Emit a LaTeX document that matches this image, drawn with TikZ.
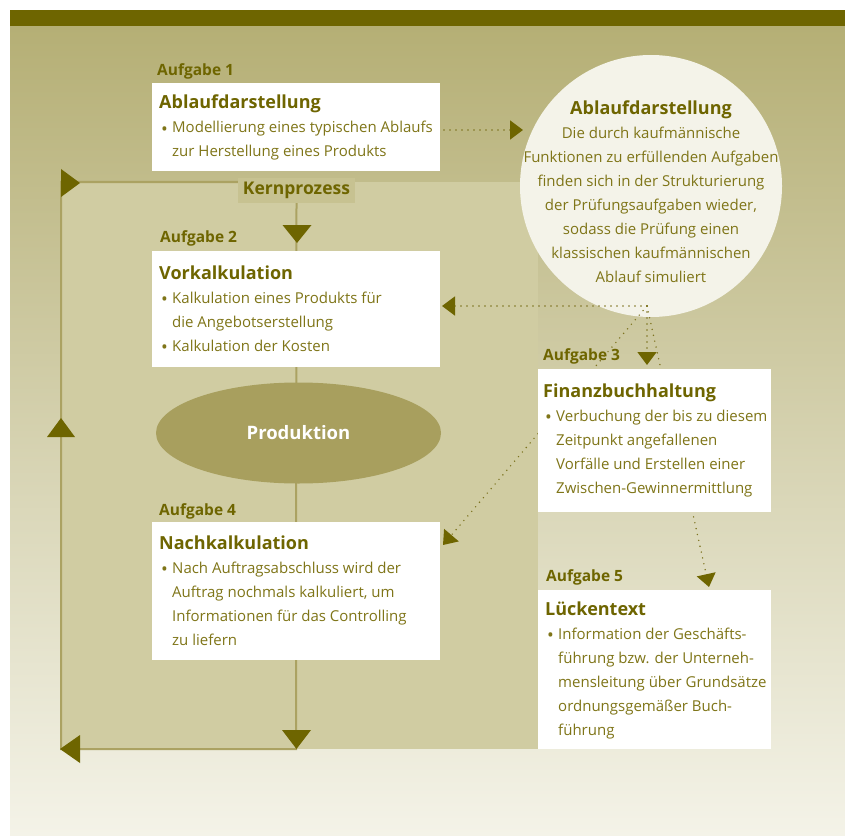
\documentclass[tikz,border=0pt]{standalone}
\usepackage{fontspec}
\setmainfont{Open Sans}
\usetikzlibrary{arrows.meta,shapes.geometric}
\definecolor{olivedark}{HTML}{6E6500}
\definecolor{olivetext}{HTML}{7F7518}
\definecolor{bgtop}{HTML}{B5AF75}
\definecolor{bgbot}{HTML}{F4F3E8}
\definecolor{kernfill}{HTML}{D0CCA2}
\definecolor{kernlab}{HTML}{C7C291}
\definecolor{flowline}{HTML}{ABA262}
\definecolor{circfill}{HTML}{F4F3E9}
\definecolor{ellfill}{HTML}{A89F5E}
\definecolor{dotcol}{HTML}{7D7320}
\newcommand\bul{\hspace*{2pt}\makebox[11pt][l]{\raisebox{-2.2pt}{\fontsize{18}{18}\selectfont\textbullet}}}
\newcommand\ind{\hspace*{13pt}}
\newcommand\ttl[1]{{\fontsize{18}{24}\selectfont\bfseries\color{olivedark}#1}}
\begin{document}
\begin{tikzpicture}[x=1pt,y=-1pt,
  whitebox/.style={fill=white,draw=none,anchor=north west,inner sep=0pt},
  task/.style={anchor=base west,inner sep=0pt,text=olivedark,font=\fontsize{15.5}{17}\selectfont\bfseries},
  boxtext/.style={anchor=base west,inner sep=0pt,text=olivetext,font=\fontsize{15}{24}\selectfont},
  flow/.style={draw=flowline,line width=2pt},
  tri/.style={fill=olivedark},
  dots/.style={draw=dotcol,line width=1.6pt,line cap=round,dash pattern=on 0pt off 6pt,
    -{Triangle[length=13pt,width=19pt,color=olivedark,line cap=butt]}}]
\useasboundingbox (0,0) rectangle (845,837);
\fill[white] (0,0) rectangle (845,837);
\shade[top color=bgtop,bottom color=bgbot] (10,26) rectangle (845,835);
\fill[olivedark] (10,10) rectangle (845,26);
% Kernprozess area
\fill[kernfill] (61,182) rectangle (538,749);
% circle
\node[circle,fill=circfill,minimum size=262pt,inner sep=0pt] (circ) at (651,186) {};
% coordinates
\coordinate (tl) at (61,182);
\coordinate (bl) at (61,749);
\coordinate (bm) at (296,749);
\coordinate (hub) at (647,306);
% Kernprozess label
\node[fill=kernlab,minimum width=117pt,minimum height=25pt,inner sep=0pt,text=olivedark,
  font=\fontsize{17.5}{18}\selectfont\bfseries] (kern) at (296.5,190.5) {Kernprozess};
% flow loop
\draw[flow] (kern.south) -- (bm) -- (bl) -- (tl) -- (kern.west |- tl);
% arrowheads of loop
\fill[tri] (282.5,225) -- (311.5,225) -- (297,243) -- cycle;
\fill[tri] (282,730) -- (311,730) -- (296.5,749) -- cycle;
\fill[tri] (47,437) -- (75,437) -- (61,418) -- cycle;
\fill[tri] (61,169) -- (61,197) -- (80,183) -- cycle;
\fill[tri] (80,735) -- (80,763) -- (60,749) -- cycle;
% task labels
\node[task] (a1) at (157,76) {Aufgabe 1};
\node[task] (a2) at (160,242) {Aufgabe 2};
\node[task] (a3) at (543,360) {Aufgabe 3};
\node[task] (a4) at (159,515) {Aufgabe 4};
\node[task] (a5) at (546,581) {Aufgabe 5};
% dotted connectors
\coordinate (d1s) at (444,130);
\coordinate (d1e) at (523,130);
\coordinate (d2e) at (442,306);
\coordinate (d3e) at (647,365);
\coordinate (d4e) at (443,545);
\coordinate (d5e) at (709,587);
\draw[dots] (d1s) -- (d1e);
\draw[dots] (hub) -- (d2e);
\draw[dots] (hub) -- (d3e);
\draw[dots] (hub) -- (d4e);
\draw[dots] (hub) -- (d5e);
% boxes
\node[whitebox,minimum width=288pt,minimum height=88pt] (box1) at (152,83) {};
\node[whitebox,minimum width=288pt,minimum height=116pt] (box2) at (152,251) {};
\node[whitebox,minimum width=233pt,minimum height=143pt] (box3) at (538,369) {};
\node[whitebox,minimum width=288pt,minimum height=138pt] (box4) at (152,522) {};
\node[whitebox,minimum width=233pt,minimum height=159pt] (box5) at (538,590) {};
% ellipse
\node[ellipse,fill=ellfill,minimum width=285pt,minimum height=101pt,inner sep=0pt,text=white,
  font=\fontsize{18.5}{20}\selectfont\bfseries] (prod) at (298.5,433) {Produktion};
% box texts
\node[boxtext] (t1) at (159,109) {\begin{tabular}[t]{@{}l@{}}\ttl{Ablaufdarstellung}\\
  \bul Modellierung eines typischen Ablaufs\\ \ind zur Herstellung eines Produkts\end{tabular}};
\node[boxtext] (t2) at (159,279) {\begin{tabular}[t]{@{}l@{}}\ttl{Vorkalkulation}\\
  \bul Kalkulation eines Produkts für\\ \ind die Angebotserstellung\\
  \bul Kalkulation der Kosten\end{tabular}};
\node[boxtext] (t3) at (543,397) {\begin{tabular}[t]{@{}l@{}}\ttl{Finanzbuchhaltung}\\
  \bul Verbuchung der bis zu diesem\\ \ind Zeitpunkt angefallenen\\
  \ind Vorfälle und Erstellen einer\\ \ind Zwischen-Gewinnermittlung\end{tabular}};
\node[boxtext] (t4) at (159,549) {\begin{tabular}[t]{@{}l@{}}\ttl{Nachkalkulation}\\
  \bul Nach Auftragsabschluss wird der\\ \ind Auftrag nochmals kalkuliert, um\\
  \ind Informationen für das Controlling\\ \ind zu liefern\end{tabular}};
\node[boxtext] (t5) at (545,615) {\begin{tabular}[t]{@{}l@{}}\ttl{Lückentext}\\
  \bul Information der Geschäfts-\\ \ind führung bzw. der Unterneh-\\
  \ind mensleitung über Grundsätze\\ \ind ordnungsgemäßer Buch-\\ \ind führung\end{tabular}};
% circle text
\node[boxtext,anchor=base] (tc) at (651,115) {\begin{tabular}[t]{@{}c@{}}\ttl{Ablaufdarstellung}\\
  Die durch kaufmännische\\ Funktionen zu erfüllenden Aufgaben\\
  finden sich in der Strukturierung\\ der Prüfungsaufgaben wieder,\\
  sodass die Prüfung einen\\ klassischen kaufmännischen\\ Ablauf simuliert\end{tabular}};
\end{tikzpicture}
\end{document}
